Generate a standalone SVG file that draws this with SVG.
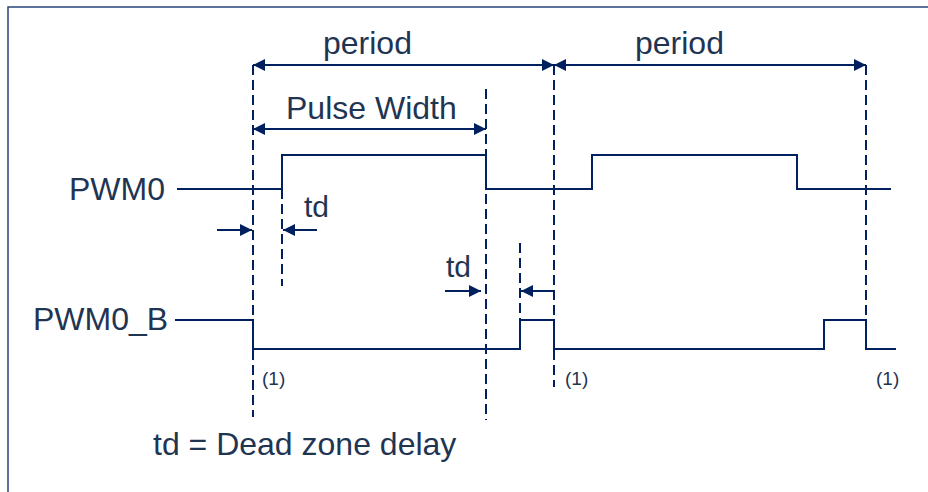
<svg xmlns="http://www.w3.org/2000/svg" width="928" height="492" viewBox="0 0 928 492">
<style>
.t{font-family:"Liberation Sans",Arial,sans-serif;font-size:32px;fill:#1f3552}
.s{font-family:"Liberation Sans",Arial,sans-serif;font-size:19px;fill:#1f3552}
.sig{fill:none;stroke:#002060;stroke-width:2}
.dash{fill:none;stroke:#002060;stroke-width:2;stroke-dasharray:10,5}
.arr{fill:none;stroke:#002060;stroke-width:2}
</style>
<defs>
<marker id="ah" viewBox="0 0 12 12" refX="12" refY="6" markerWidth="13" markerHeight="12" markerUnits="userSpaceOnUse" orient="auto-start-reverse">
<path d="M0,0 L12,6 L0,12 Z" fill="#002060"/>
</marker>
</defs>
<rect x="8" y="7" width="940" height="500" fill="#ffffff" stroke="#2a4478" stroke-width="1.5"/>
<g id="connectors">
<line class="dash" x1="253" y1="65" x2="253" y2="417"/>
<line class="dash" x1="282" y1="189" x2="282" y2="286"/>
<line class="dash" x1="486" y1="89" x2="486" y2="420"/>
<line class="dash" x1="520" y1="243" x2="520" y2="320"/>
<line class="dash" x1="554" y1="65" x2="554" y2="387"/>
<line class="dash" x1="866" y1="65" x2="866" y2="320"/>
<line class="arr" x1="253" y1="65" x2="554" y2="65" marker-start="url(#ah)" marker-end="url(#ah)"/>
<line class="arr" x1="554" y1="65" x2="866" y2="65" marker-start="url(#ah)" marker-end="url(#ah)"/>
<line class="arr" x1="253" y1="129" x2="486" y2="129" marker-start="url(#ah)" marker-end="url(#ah)"/>
<line class="arr" x1="217" y1="230" x2="252" y2="230" marker-end="url(#ah)"/>
<line class="arr" x1="317" y1="230" x2="283" y2="230" marker-end="url(#ah)"/>
<line class="arr" x1="445" y1="291" x2="481" y2="291" marker-end="url(#ah)"/>
<polyline class="arr" points="554,300 554,291 521,291" marker-end="url(#ah)"/>
</g>
<g id="pwm0">
<text class="t" x="69" y="200">PWM0</text>
<path class="sig" d="M177,189 H282 V155 H486 V189 H592 V155 H797 V189 H891"/>
</g>
<g id="pwm0_b">
<text class="t" x="33" y="330">PWM0_B</text>
<path class="sig" d="M175,320 H253 V349 H520 V320 H554 V349 H824 V320 H866 V349 H896"/>
</g>
<g id="labels">
<text class="t" x="323" y="54">period</text>
<text class="t" x="635" y="54">period</text>
<text class="t" x="286" y="119">Pulse Width</text>
<text class="t" x="304" y="217" style="font-size:30px">td</text>
<text class="t" x="446" y="277" style="font-size:30px">td</text>
<text class="s" x="262" y="385">(1)</text>
<text class="s" x="565" y="385">(1)</text>
<text class="s" x="876" y="385">(1)</text>
<text class="t" x="153" y="455">td = Dead zone delay</text>
</g>
</svg>
